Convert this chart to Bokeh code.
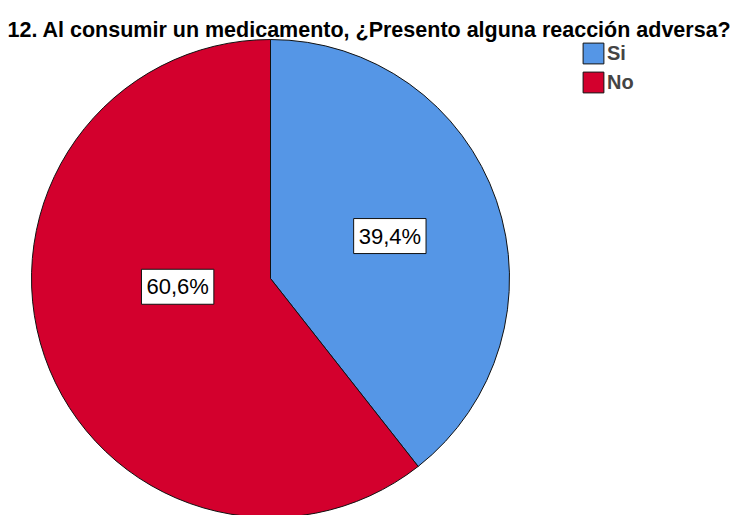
import math
from bokeh.plotting import figure
from bokeh.models import Range1d, Legend, LegendItem, ColumnDataSource
from bokeh.core.properties import value
from bokeh.embed import file_html
from bokeh.resources import INLINE

title_text = "12. Al consumir un medicamento, ¿Presento alguna reacción adversa?"
categories = ["Si", "No"]
percentages = [39.4, 60.6]
label_texts = ["39,4%", "60,6%"]
colors = ["#5596E6", "#D3002D"]

# layout (pixels)
W, H = 735, 515
CX, CY = 270, 278
R = 239
label_radius = [0.53, 0.39]
label_angle_shift = [-0.5, 14.0]  # degrees, clockwise

FONT = "Liberation Sans"

p = figure(width=W, height=H, output_backend="svg", toolbar_location=None,
           x_range=Range1d(-CX, W - CX), y_range=Range1d(-(H - CY), CY),
           x_axis_type=None, y_axis_type=None, min_border=0,
           min_border_left=0, min_border_right=0, min_border_top=0, min_border_bottom=0)
p.grid.visible = False
p.outline_line_color = None
p.background_fill_color = "white"

total = sum(percentages)
starts, ends, lx, ly = [], [], [], []
cum = 0.0
for i, v in enumerate(percentages):
    a0 = math.pi / 2 - 2 * math.pi * cum / total
    cum += v
    a1 = math.pi / 2 - 2 * math.pi * cum / total
    starts.append(a0)
    ends.append(a1)
    mid = (a0 + a1) / 2 - math.radians(label_angle_shift[i])
    lx.append(label_radius[i] * R * math.cos(mid))
    ly.append(label_radius[i] * R * math.sin(mid))

src = ColumnDataSource(dict(cat=categories, start=starts, end=ends, color=colors,
                            x=[0] * len(categories), y=[0] * len(categories)))
wr = p.wedge(x="x", y="y", radius=R, start_angle="start", end_angle="end",
             direction="clock", fill_color="color", line_color="#111111",
             line_width=1, source=src)

lsrc = ColumnDataSource(dict(x=lx, y=ly, t=label_texts))
p.text(x="x", y="y", text="t", source=lsrc, text_align="center", text_baseline="middle",
       text_font=value(FONT), text_font_size="22px", text_color="black",
       background_fill_color="white", border_line_color="#111111", border_line_width=1,
       padding=5)

p.text(x=[-CX + 369], y=[CY - 29], text=[title_text], text_align="center",
       text_baseline="alphabetic", text_font=value(FONT), text_font_size="21.5px",
       text_font_style="bold", text_color="black")

items = [LegendItem(label=c, renderers=[wr], index=i) for i, c in enumerate(categories)]
legend = Legend(items=items, location=(580, H - 40 - 55), glyph_width=26, glyph_height=26,
                label_height=26, spacing=3, padding=0, margin=0,
                border_line_color=None, background_fill_alpha=0,
                label_text_font=FONT, label_text_font_size="20px",
                label_text_font_style="bold", label_standoff=1)
p.add_layout(legend)

open("out.html", "w").write(file_html(p, INLINE))
